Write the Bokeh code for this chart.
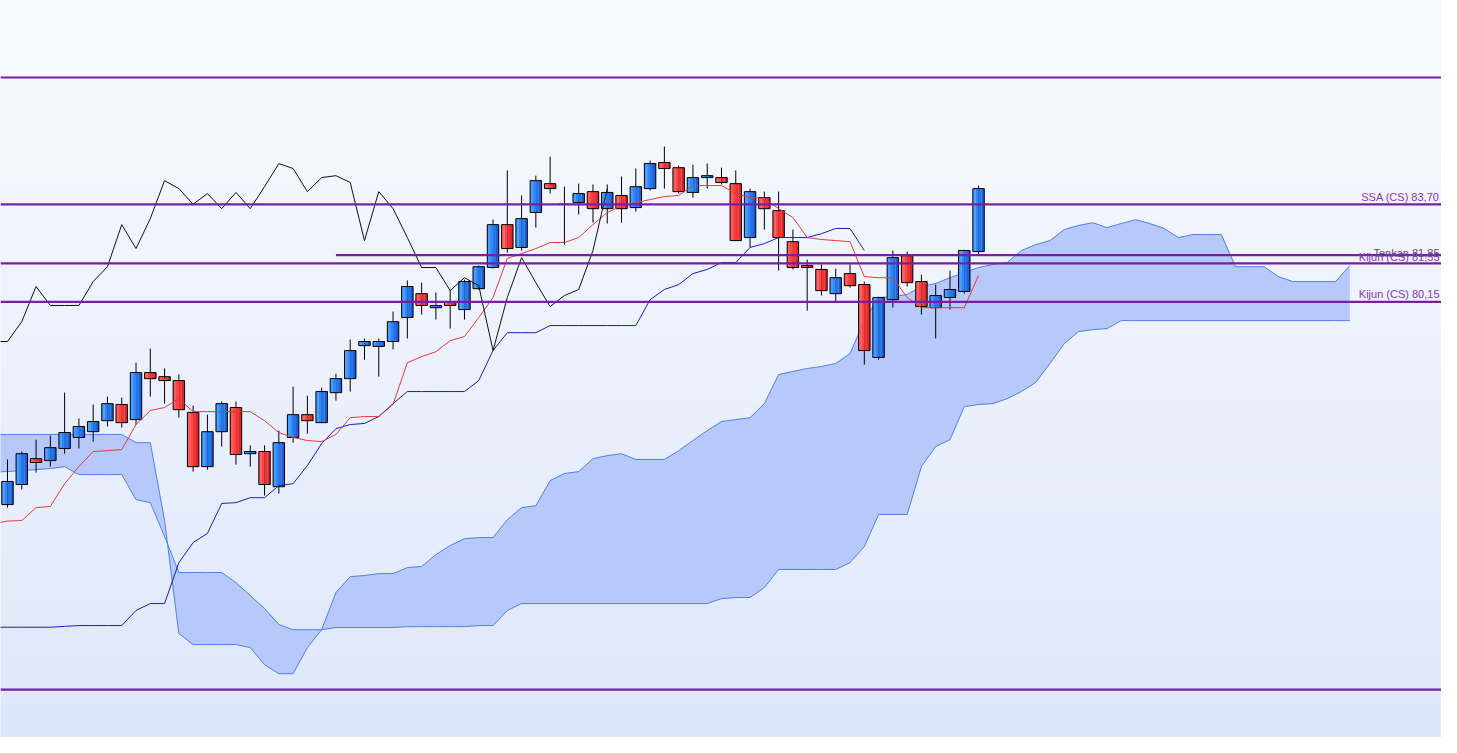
import numpy as np
from bokeh.plotting import figure
from bokeh.models import Range1d, Span
from bokeh.embed import file_html
from bokeh.resources import INLINE
from bokeh.core.properties import value

# ---------------- data ----------------
open_ = [72.78, 73.51, 74.45, 74.38, 74.82, 75.22, 75.43, 75.83, 76.42, 75.87,
         77.58, 77.43, 77.29, 76.13, 74.16, 75.43, 76.31, 74.63, 74.71, 73.43,
         75.22, 76.05, 75.76, 76.85, 77.36, 78.56, 78.53, 78.71, 79.58, 80.45,
         79.94, 80.16, 79.87, 80.63, 81.40, 82.96, 82.13, 83.40, 84.45, 83.70,
         83.76, 84.16, 83.54, 84.02, 83.58, 84.27, 85.22, 85.03, 84.13, 84.67,
         84.67, 84.45, 82.49, 83.94, 83.47, 82.34, 81.47, 81.33, 80.45, 81.18,
         80.78, 78.13, 80.23, 81.83, 80.89, 79.94, 80.31, 80.53, 81.98]
high = [74.42, 74.71, 75.14, 75.29, 76.85, 75.91, 76.42, 76.71, 76.67, 77.94,
        78.45, 77.73, 77.51, 76.38, 76.05, 76.53, 76.53, 74.93, 74.93, 75.47,
        77.07, 76.74, 77.03, 77.54, 78.78, 78.82, 78.82, 79.80, 80.93, 80.85,
        80.49, 80.60, 80.96, 81.47, 83.14, 84.93, 84.02, 84.74, 85.43, 84.34,
        84.45, 84.42, 84.42, 84.71, 85.00, 85.29, 85.80, 85.11, 85.14, 85.18,
        85.03, 84.93, 84.27, 84.16, 84.16, 82.78, 81.69, 81.51, 81.36, 81.51,
        80.89, 80.34, 82.02, 81.98, 81.14, 80.78, 81.29, 82.05, 84.38]
low = [72.67, 73.33, 73.94, 74.16, 74.63, 74.82, 75.07, 75.62, 75.58, 75.69,
       76.71, 76.45, 75.94, 73.98, 74.05, 74.89, 74.23, 74.16, 73.11, 73.18,
       75.03, 75.36, 75.74, 76.56, 76.89, 78.05, 77.43, 78.42, 78.82, 79.69,
       79.51, 79.18, 79.51, 80.60, 81.36, 81.94, 82.02, 82.85, 84.09, 82.23,
       83.33, 83.03, 83.00, 83.03, 83.43, 84.20, 84.27, 84.09, 83.94, 84.27,
       84.42, 82.36, 82.13, 82.78, 81.29, 81.33, 79.83, 80.38, 80.16, 80.67,
       77.87, 78.05, 79.94, 80.71, 79.69, 78.82, 79.87, 80.45, 81.87]
close = [73.62, 74.63, 74.31, 74.85, 75.40, 75.62, 75.80, 76.45, 75.76, 77.58,
         77.36, 77.29, 76.23, 74.16, 75.43, 76.45, 74.60, 74.71, 73.51, 75.03,
         76.05, 75.83, 76.89, 77.36, 78.38, 78.71, 78.71, 79.43, 80.71, 80.02,
         80.02, 80.02, 80.89, 81.43, 82.96, 82.09, 83.18, 84.56, 84.27, 83.70,
         84.09, 83.54, 84.13, 83.54, 84.34, 85.18, 85.00, 84.16, 84.67, 84.74,
         84.49, 82.38, 84.16, 83.54, 82.49, 81.40, 81.40, 80.56, 81.03, 80.74,
         78.38, 80.31, 81.76, 80.85, 79.98, 80.38, 80.60, 82.02, 84.27]

# indicator series start one bar before the first visible candle (index -1)
line_start = -1

tenkan = [72.09,
          72.18, 72.20, 72.67, 72.71, 73.54, 74.16, 74.71, 74.74, 74.78, 75.69,
          76.20, 76.31, 76.63, 76.16, 76.16, 76.16, 76.16, 76.16, 75.83, 75.40,
          75.22, 75.11, 75.07, 75.33, 75.94, 75.98, 75.98, 76.42, 77.94, 78.16,
          78.34, 78.74, 78.89, 79.58, 80.31, 81.73, 81.91, 82.09, 82.31, 82.31,
          82.49, 82.96, 83.40, 83.65, 83.76, 83.87, 83.98, 84.02, 84.38, 84.38,
          84.38, 84.09, 83.94, 83.91, 83.54, 83.22, 82.49, 82.42, 82.38, 82.34,
          81.07, 81.03, 81.03, 80.31, 79.94, 79.94, 79.94, 79.94, 81.11]

kijun = [68.32,
         68.32, 68.32, 68.32, 68.32, 68.35, 68.38, 68.38, 68.38, 68.38, 68.93,
         69.18, 69.18, 70.67, 71.40, 71.73, 72.82, 72.85, 73.03, 73.03, 73.47,
         73.54, 74.20, 75.00, 75.54, 75.69, 75.73, 75.98, 76.45, 76.89, 76.89,
         76.89, 76.89, 76.89, 77.29, 78.38, 79.03, 79.03, 79.03, 79.29, 79.29,
         79.29, 79.29, 79.29, 79.29, 79.29, 80.23, 80.60, 80.78, 81.18, 81.33,
         81.58, 81.58, 82.13, 82.27, 82.49, 82.49, 82.49, 82.63, 82.82, 82.82,
         82.02]

chikou_shift = 26

ssa = [75.33,
       75.33, 75.33, 75.33, 75.33, 75.33, 75.33, 75.33, 75.33, 75.33, 75.03,
       75.03, 72.20, 68.09, 67.69, 67.69, 67.69, 67.69, 67.58, 66.96, 66.63,
       66.63, 67.58, 68.23, 69.58, 70.16, 70.20, 70.27, 70.27, 70.49, 70.53,
       70.96, 71.29, 71.54, 71.58, 71.58, 72.23, 72.67, 72.74, 73.65, 73.91,
       73.98, 74.45, 74.56, 74.63, 74.42, 74.42, 74.42, 74.74, 75.11, 75.47,
       75.80, 75.87, 75.94, 76.45, 77.51, 77.62, 77.73, 77.80, 77.91, 78.27,
       79.47, 80.31, 80.34, 80.42, 80.71, 80.82, 81.03, 81.22, 81.40, 81.51,
       81.58, 82.02, 82.23, 82.38, 82.78, 82.93, 83.03, 82.85, 83.00, 83.14,
       83.00, 82.82, 82.49, 82.60, 82.60, 82.60, 81.43, 81.43, 81.43, 81.07,
       80.89, 80.89, 80.89, 80.89, 81.47]
ssb = [73.96,
       73.98, 74.02, 74.05, 74.09, 74.16, 73.87, 73.87, 73.87, 73.87, 72.96,
       72.85, 71.62, 70.31, 70.31, 70.31, 70.31, 69.94, 69.47, 69.00, 68.42,
       68.23, 68.23, 68.23, 68.31, 68.31, 68.31, 68.31, 68.31, 68.34, 68.34,
       68.34, 68.34, 68.34, 68.38, 68.38, 68.93, 69.18, 69.18, 69.18, 69.18,
       69.18, 69.18, 69.18, 69.18, 69.18, 69.18, 69.18, 69.18, 69.18, 69.18,
       69.36, 69.40, 69.40, 69.76, 70.42, 70.42, 70.42, 70.42, 70.42, 70.67,
       71.25, 72.42, 72.42, 72.42, 74.16, 74.89, 75.14, 76.34, 76.42, 76.45,
       76.63, 76.89, 77.22, 77.91, 78.63, 79.07, 79.14, 79.18, 79.47, 79.47,
       79.47, 79.47, 79.47, 79.47, 79.47, 79.47, 79.47, 79.47, 79.47, 79.47,
       79.47, 79.47, 79.47, 79.47, 79.47]

full_levels = [88.31, 83.70, 81.55, 80.15, 66.05]
tenkan_level = 81.85
tenkan_level_start = 23

label_text = ["SSA (CS) 83,70", "Tenkan 81,85", "Kijun (CS) 81,55", "Kijun (CS) 80,15"]
label_price = [83.70, 81.85, 81.55, 80.15]

# ---------------- figure ----------------
X0, X1 = -0.49, 100.42
Y0, Y1 = 64.31, 91.11
W, H = 1441, 737

p = figure(width=W, height=H, x_range=Range1d(X0, X1), y_range=Range1d(Y0, Y1),
           output_backend="svg", toolbar_location=None, min_border=0)
p.xaxis.visible = False
p.yaxis.visible = False
p.grid.visible = False
p.outline_line_color = None
p.background_fill_color = "#eef2fd"
p.border_fill_color = "#ffffff"

# background vertical gradient
top_c = np.array([250, 251, 255], dtype=float)
bot_c = np.array([222, 231, 250], dtype=float)
t = np.linspace(0.0, 1.0, H)[:, None]          # row 0 = bottom
cols = bot_c + (top_c - bot_c) * t
img = np.empty((H, 1), dtype=np.uint32)
view = img.view(dtype=np.uint8).reshape((H, 1, 4))
view[:, 0, 0] = cols[:, 0].astype(np.uint8)
view[:, 0, 1] = cols[:, 1].astype(np.uint8)
view[:, 0, 2] = cols[:, 2].astype(np.uint8)
view[:, 0, 3] = 255
p.image_rgba(image=[img], x=X0, y=Y0, dw=X1 - X0, dh=Y1 - Y0)

# cloud
cx = list(range(line_start, line_start + len(ssa)))
p.varea(x=cx, y1=ssa, y2=ssb, fill_color="#b6c9fa", fill_alpha=1.0)
p.line(cx, ssa, line_color="#4f80e6", line_width=1)
p.line(cx, ssb, line_color="#4f80e6", line_width=1)

# candles (horizontal shading in strips, then outline)
idx = list(range(len(close)))
up = [c >= o for o, c in zip(open_, close)]
body_top = [max(o, c) for o, c in zip(open_, close)]
body_bot = [min(o, c) for o, c in zip(open_, close)]
p.segment(x0=idx, y0=low, x1=idx, y1=high, line_color="#000000", line_width=1)
blue_shades = ["#4c9dff", "#3189f8", "#2474ea", "#1b5fd6"]
red_shades = ["#ff5e5e", "#f94646", "#ee3434", "#dc2626"]
bw = 0.8
ns = len(blue_shades)
for k in range(ns):
    sx = [i - bw / 2 + bw / ns * (k + 0.5) for i in idx]
    sc = [blue_shades[k] if u else red_shades[k] for u in up]
    p.vbar(x=sx, width=bw / ns + 0.01, top=body_top, bottom=body_bot,
           fill_color=sc, line_color=None)
p.vbar(x=idx, width=bw, top=body_top, bottom=body_bot, fill_color=None,
       line_color="#000000", line_width=1)

# indicator lines
p.line(list(range(line_start, line_start + len(kijun))), kijun, line_color="#1c1cbc", line_width=1)
p.line(list(range(line_start, line_start + len(tenkan))), tenkan, line_color="#e8393a", line_width=1)
chikou = close[chikou_shift + line_start:]
p.line(list(range(line_start, line_start + len(chikou))), chikou, line_color="#111111", line_width=1)

# horizontal levels
for lv in full_levels:
    p.add_layout(Span(location=lv, dimension="width", line_color="#7a1da6", line_width=2.2))
p.segment(x0=[tenkan_level_start], y0=[tenkan_level], x1=[X1 + 5], y1=[tenkan_level],
          line_color="#7a1da6", line_width=2.2)

# labels
p.text(x=[X1] * len(label_text), y=label_price, text=label_text,
       x_offset=[-2, -2, -2, -2], y_offset=[-7.4, -2.4, -6.4, -7.5],
       text_align="right", text_baseline="middle",
       text_font=value("Liberation Sans"), text_font_size="11px",
       text_color=["#8a36b0", "#5e4a80", "#8a36b0", "#8a36b0"])

open("out.html", "w").write(file_html(p, INLINE))
